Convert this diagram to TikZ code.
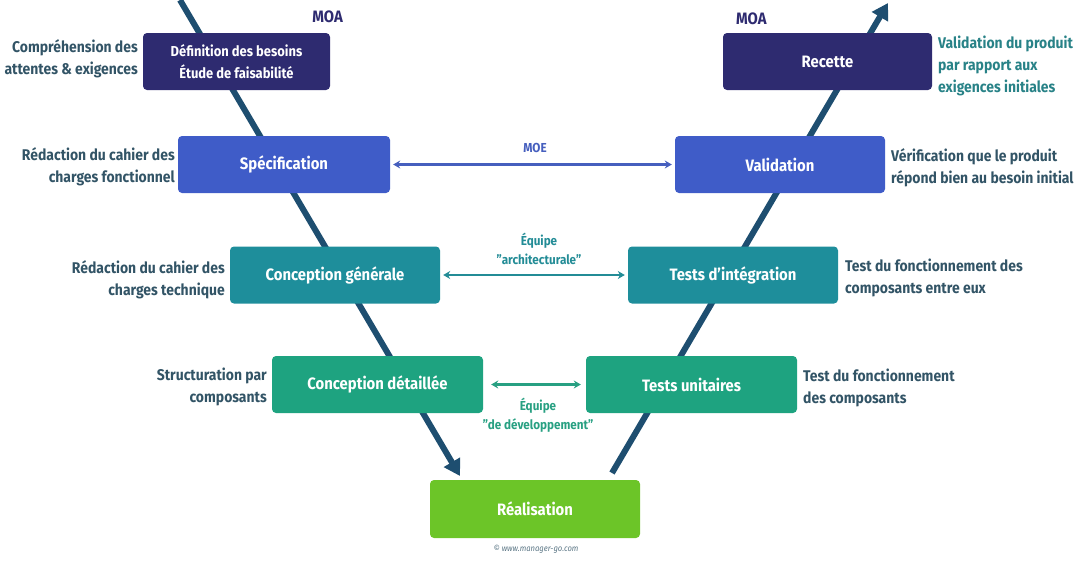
\documentclass[tikz,border=0pt]{standalone}
\usepackage{fontspec}
\setmainfont{Fira Sans}[FakeStretch=0.9]
\usetikzlibrary{arrows.meta}
\definecolor{navy}{RGB}{46,43,112}
\definecolor{blueS}{RGB}{63,92,200}
\definecolor{tealC}{RGB}{30,142,155}
\definecolor{greenT}{RGB}{30,163,128}
\definecolor{greenR}{RGB}{108,197,40}
\definecolor{vline}{RGB}{30,78,112}
\definecolor{slate}{RGB}{50,84,102}
\definecolor{moe}{RGB}{70,95,190}
\definecolor{tealA}{RGB}{35,140,150}
\definecolor{devA}{RGB}{40,160,130}
\definecolor{tealtxt}{RGB}{40,130,135}
\begin{document}
\begin{tikzpicture}[x=1pt,y=-1pt,
  phase/.style={rounded corners=4pt, text=white, font=\bfseries\fontsize{16.5}{22}\selectfont,
    minimum height=57pt, align=center, inner sep=0pt},
  side/.style={text=slate, font=\bfseries\fontsize{15.5}{22}\selectfont, inner sep=0pt},
  harrow/.style={line width=2.2pt, {Stealth[length=7pt,width=8pt]}-{Stealth[length=7pt,width=8pt]}, shorten <=3pt, shorten >=3pt},
  vstroke/.style={line width=6pt, draw=vline, -{Triangle[length=16pt,width=18pt]}},
  lab/.style={font=\bfseries\fontsize{13}{19}\selectfont, inner sep=0pt, align=center}
]
\useasboundingbox (0,0) rectangle (1076,560);
% V lines
\coordinate (lt) at (180,0);
\coordinate (lb) at (460,476);
\coordinate (rb) at (612,473);
\coordinate (rt) at (888,3);
\draw[vstroke] (lt) -- (lb);
\draw[vstroke] (rb) -- (rt);
% boxes
\node[phase, fill=navy, minimum width=187pt, font=\bfseries\fontsize{14.4}{22}\selectfont] (def) at (236.5,61.5) {Définition des besoins\\Étude de faisabilité};
\node[phase, fill=navy, minimum width=209pt] (rec) at (827.5,61.5) {Recette};
\node[phase, fill=blueS, minimum width=212pt] (spe) at (284,164.5) {Spécification};
\node[phase, fill=blueS, minimum width=210pt] (val) at (780,164.5) {Validation};
\node[phase, fill=tealC, minimum width=210pt] (cg) at (335,275) {Conception générale};
\node[phase, fill=tealC, minimum width=210pt] (ti) at (733,275) {Tests d’intégration};
\node[phase, fill=greenT, minimum width=211pt] (cd) at (377.5,384.5) {Conception détaillée};
\node[phase, fill=greenT, minimum width=211pt] (tu) at (691.5,384.5) {Tests unitaires};
\node[phase, fill=greenR, minimum width=210pt, minimum height=58pt] (rea) at (535,509) {Réalisation};
% MOA labels
\node[lab, text=navy, anchor=east, font=\bfseries\fontsize{16.5}{20}\selectfont] (moa1) at (343,17) {MOA};
\node[lab, text=navy, anchor=west, font=\bfseries\fontsize{16.5}{20}\selectfont] (moa2) at (736,19) {MOA};
% horizontal arrows
\draw[harrow, draw=moe, color=moe] (spe.east) -- (val.west);
\node[lab, text=moe] (moe) at (535,148) {MOE};
\draw[harrow, draw=tealA, color=tealA] (cg.east) -- (ti.west);
\node[lab, text=tealA] (ea) at (539,249) {Équipe\\"architecturale"};
\draw[harrow, draw=devA, color=devA, shorten <=8pt, shorten >=5pt] (cd.east) -- (tu.west);
\node[lab, text=devA] (ed) at (538,415) {Équipe\\"de développement"};
% side texts
\node[side, anchor=east, align=right] (s1) at (138,59) {Compréhension des\\attentes \& exigences};
\node[side, anchor=west, align=left, text=tealtxt] (s2) at (938,66) {Validation du produit\\par rapport aux\\exigences initiales};
\node[side, anchor=east, align=right] (s3) at (175,167) {Rédaction du cahier des\\charges fonctionnel};
\node[side, anchor=west, align=left] (s4) at (891,168) {Vérification que le produit\\répond bien au besoin initial};
\node[side, anchor=east, align=right] (s5) at (225,280) {Rédaction du cahier des\\charges technique};
\node[side, anchor=west, align=left] (s6) at (845,278) {Test du fonctionnement des\\composants entre eux};
\node[side, anchor=east, align=right] (s7) at (267,387) {Structuration par\\composants};
\node[side, anchor=west, align=left] (s8) at (803,388) {Test du fonctionnement\\des composants};
\node[font=\itshape\fontsize{8.5}{10}\selectfont, text=slate!80, inner sep=0pt] (cr) at (536,549) {© www.manager-go.com};
\end{tikzpicture}
\end{document}
